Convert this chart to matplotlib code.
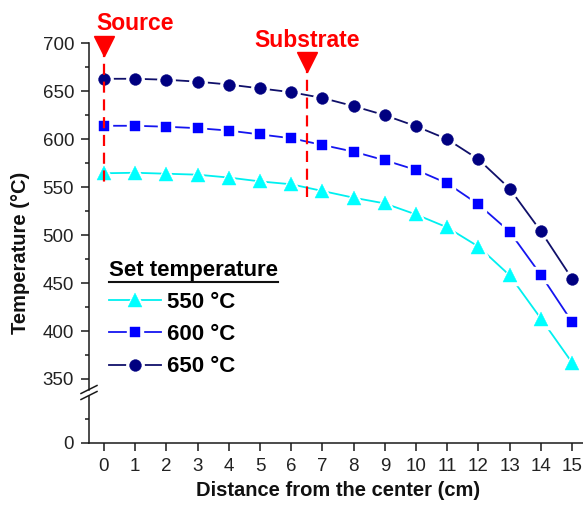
import numpy as np
import matplotlib
matplotlib.use("Agg")
import matplotlib.pyplot as plt
from matplotlib.lines import Line2D
from matplotlib.legend_handler import HandlerTuple

plt.rcParams['font.family'] = ['Liberation Sans', 'DejaVu Sans']

# ---- data ----
distance = list(range(16))
t550 = [564.5, 565, 564, 563, 560, 556, 553, 546, 539, 533, 521.5, 508, 488, 458, 413, 367]
t600 = [614, 614, 613, 611.5, 609, 605, 601, 594, 587, 578, 568, 554, 532, 503.5, 458.5, 409.5]
t650 = [663, 663, 662, 660, 657, 653, 649, 643, 634.5, 625, 613.5, 600, 579, 548.5, 504, 454.5]
labels = ['550 \u00b0C', '600 \u00b0C', '650 \u00b0C']
colors = ['#00FFFF', '#0000FF', '#000080']
line_colors = ['#00F0F0', '#1515F0', '#10106A']
markers = ['^', 's', 'o']
msizes = [10, 7.5, 8.5]
source_x, source_top, source_bottom = 0, 697, 555
substrate_x, substrate_top, substrate_bottom = 6.5, 680, 540
y_major_top = [350, 400, 450, 500, 550, 600, 650, 700]
y_minor_top = [375, 425, 475, 525, 575, 625, 675]

W, H = 583, 508
fig = plt.figure(figsize=(W / 100, H / 100), dpi=100)

def fx(p):
    return p / W

def fy(p):
    return 1 - p / H

ax_left = 89
ax_top_px, ax_brk_hi, ax_brk_lo, ax_bot_px = 43.3, 389.5, 395.5, 442.7
ax_t = fig.add_axes([fx(ax_left), fy(ax_brk_hi), fx(W - ax_left), (ax_brk_hi - ax_top_px) / H])
ax_b = fig.add_axes([fx(ax_left), fy(ax_bot_px), fx(W - ax_left), (ax_bot_px - ax_brk_lo) / H])

spc = '#1a1a1a'
xlim = (-0.48, 15.35)
for ax in (ax_t, ax_b):
    ax.set_xlim(*xlim)
    ax.spines['top'].set_visible(False)
    ax.spines['right'].set_visible(False)
    ax.spines['left'].set_color(spc)
    ax.spines['bottom'].set_color(spc)
    ax.spines['left'].set_linewidth(1.1)
    ax.spines['bottom'].set_linewidth(1.1)
    ax.tick_params(which='major', direction='out', length=5.8, width=1.1, color=spc,
                   labelsize=13.5, labelcolor='#222222', pad=5)
    ax.tick_params(which='minor', direction='out', length=3, width=1.1, color=spc)
    ax.patch.set_alpha(0)

ax_t.set_ylim(339, 700)
ax_t.spines['bottom'].set_visible(False)
ax_t.set_xticks([])
ax_t.set_yticks(y_major_top)
ax_t.set_yticks(y_minor_top, minor=True)

ax_b.set_ylim(0, 50)
ax_b.set_yticks([0])
ax_b.set_yticks([25], minor=True)
ax_b.set_xticks(distance)
ax_b.tick_params(axis='x', pad=5)

# ---- series ----
handles = []
for y, c, lc, m, ms in zip([t550, t600, t650], colors, line_colors, markers, msizes):
    ln, = ax_t.plot(distance, y, color=lc, lw=1.3, zorder=2)
    halo, = ax_t.plot(distance, y, ls='none', marker=m, ms=ms + 4, color='white',
                      mec='white', zorder=3)
    mk, = ax_t.plot(distance, y, ls='none', marker=m, ms=ms, color=c, mec=c,
                    mew=0.3, zorder=4)
    handles.append((ln, halo, mk))

# ---- source / substrate markers ----
red = '#FF0000'
for xv, ytop, ybot in [(source_x, source_top, source_bottom),
                       (substrate_x, substrate_top, substrate_bottom)]:
    ax_t.plot([xv, xv], [ytop, ybot], color=red, lw=1.6, dashes=(5, 3),
              zorder=6, clip_on=False)
    ax_t.plot([xv], [ytop], marker='v', ms=15, color=red, mec=red, zorder=7,
              clip_on=False)
ax_t.text(1.0, 714, 'Source', color=red, fontsize=16.5, fontweight='bold',
          ha='center', va='baseline', clip_on=False)
ax_t.text(substrate_x, 696.5, 'Substrate', color=red, fontsize=16.5,
          fontweight='bold', ha='center', va='baseline', clip_on=False)

# ---- legend ----
leg = ax_t.legend(handles=handles, labels=labels,
                  handler_map={tuple: HandlerTuple(ndivide=1)},
                  loc='upper left', bbox_to_anchor=(fx(109), fy(260)),
                  bbox_transform=fig.transFigure, frameon=False,
                  prop={'weight': 'bold', 'size': 16},
                  title='Set temperature',
                  title_fontproperties={'weight': 'bold', 'size': 16},
                  alignment='left', handlelength=2.35, handletextpad=0.25,
                  labelspacing=0.5, borderpad=0, borderaxespad=0)

# ---- axis labels ----
fig.text(fx(338), fy(496), 'Distance from the center (cm)', fontsize=14.5,
         fontweight='bold', ha='center', va='baseline', color='#111111')
fig.text(fx(21), fy(253), 'Temperature (\u00b0C)', fontsize=14.5,
         fontweight='bold', ha='center', va='center', rotation=90, color='#111111')

# ---- axis break marks ----
for yc in (ax_brk_hi, ax_brk_lo):
    fig.add_artist(Line2D([fx(ax_left - 8), fx(ax_left + 8)], [fy(yc + 4), fy(yc - 4)],
                          transform=fig.transFigure, color=spc, lw=1.1))

# ---- underline legend title ----
fig.canvas.draw()
bb = leg.get_title().get_window_extent()
fig.add_artist(Line2D([bb.x0 / W, bb.x1 / W], [(bb.y0 - 1) / H, (bb.y0 - 1) / H],
                      transform=fig.transFigure, color='#111111', lw=1.5))

fig.savefig('out.png', dpi=100)
